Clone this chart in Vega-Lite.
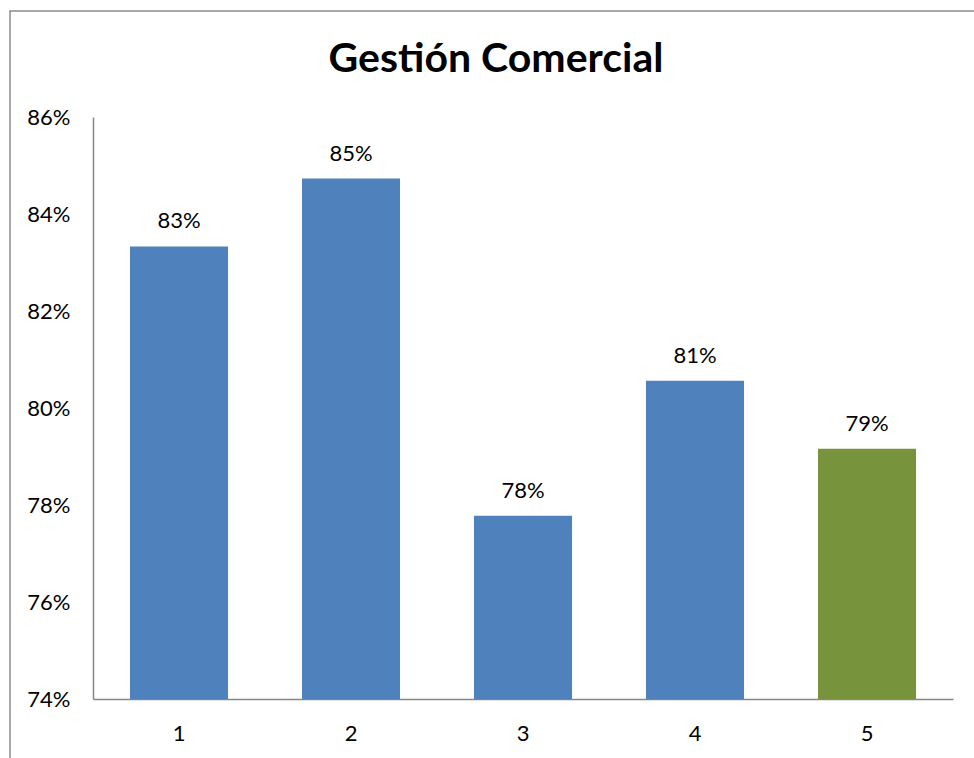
{
  "$schema": "https://vega.github.io/schema/vega-lite/v6.json",
  "autosize": "none",
  "width": 964,
  "height": 747,
  "padding": {"left": 10, "top": 11, "right": 0, "bottom": 0},
  "background": "white",
  "title": {
    "text": "Gestión Comercial",
    "font": "Lato",
    "fontSize": 41,
    "fontWeight": "bold",
    "color": "black",
    "anchor": "middle",
    "frame": "group",
    "baseline": "alphabetic",
    "offset": 0,
    "dx": 4,
    "dy": 102
  },
  "config": {
    "view": {"stroke": "#8c8c8c", "strokeWidth": 1.5, "strokeDash": [964, 1711, 747, 10]},
    "axis": {
      "labelFont": "Lato",
      "labelFontSize": 22,
      "labelColor": "black",
      "domainColor": "#868686",
      "domainWidth": 1.5,
      "ticks": false,
      "grid": false,
      "title": null
    }
  },
  "data": {
    "values": [
      {"periodo": 1, "valor": 0.8333, "tipo": "regular"},
      {"periodo": 2, "valor": 0.8473, "tipo": "regular"},
      {"periodo": 3, "valor": 0.7778, "tipo": "regular"},
      {"periodo": 4, "valor": 0.8056, "tipo": "regular"},
      {"periodo": 5, "valor": 0.7916, "tipo": "destacado"}
    ]
  },
  "encoding": {
    "x": {
      "field": "periodo",
      "type": "ordinal",
      "scale": {"range": [83, 943], "paddingInner": 0.43, "paddingOuter": 0.215},
      "axis": {"labelAngle": 0, "offset": -59, "labelPadding": 24}
    },
    "y": {
      "field": "valor",
      "type": "quantitative",
      "scale": {"domain": [0.74, 0.86], "range": [688, 106], "zero": false, "nice": false},
      "axis": {
        "values": [0.74, 0.76, 0.78, 0.80, 0.82, 0.84, 0.86],
        "format": ".0%",
        "offset": -83,
        "labelPadding": 23
      }
    }
  },
  "layer": [
    {
      "mark": {"type": "bar"},
      "encoding": {
        "y2": {"datum": 0.74},
        "color": {
          "field": "tipo",
          "type": "nominal",
          "scale": {"domain": ["regular", "destacado"], "range": ["#4F81BD", "#77933C"]},
          "legend": null
        }
      }
    },
    {
      "mark": {"type": "text", "font": "Lato", "fontSize": 22, "color": "black", "baseline": "alphabetic", "dy": -18},
      "encoding": {
        "text": {"field": "valor", "type": "quantitative", "format": ".0%"}
      }
    }
  ]
}
